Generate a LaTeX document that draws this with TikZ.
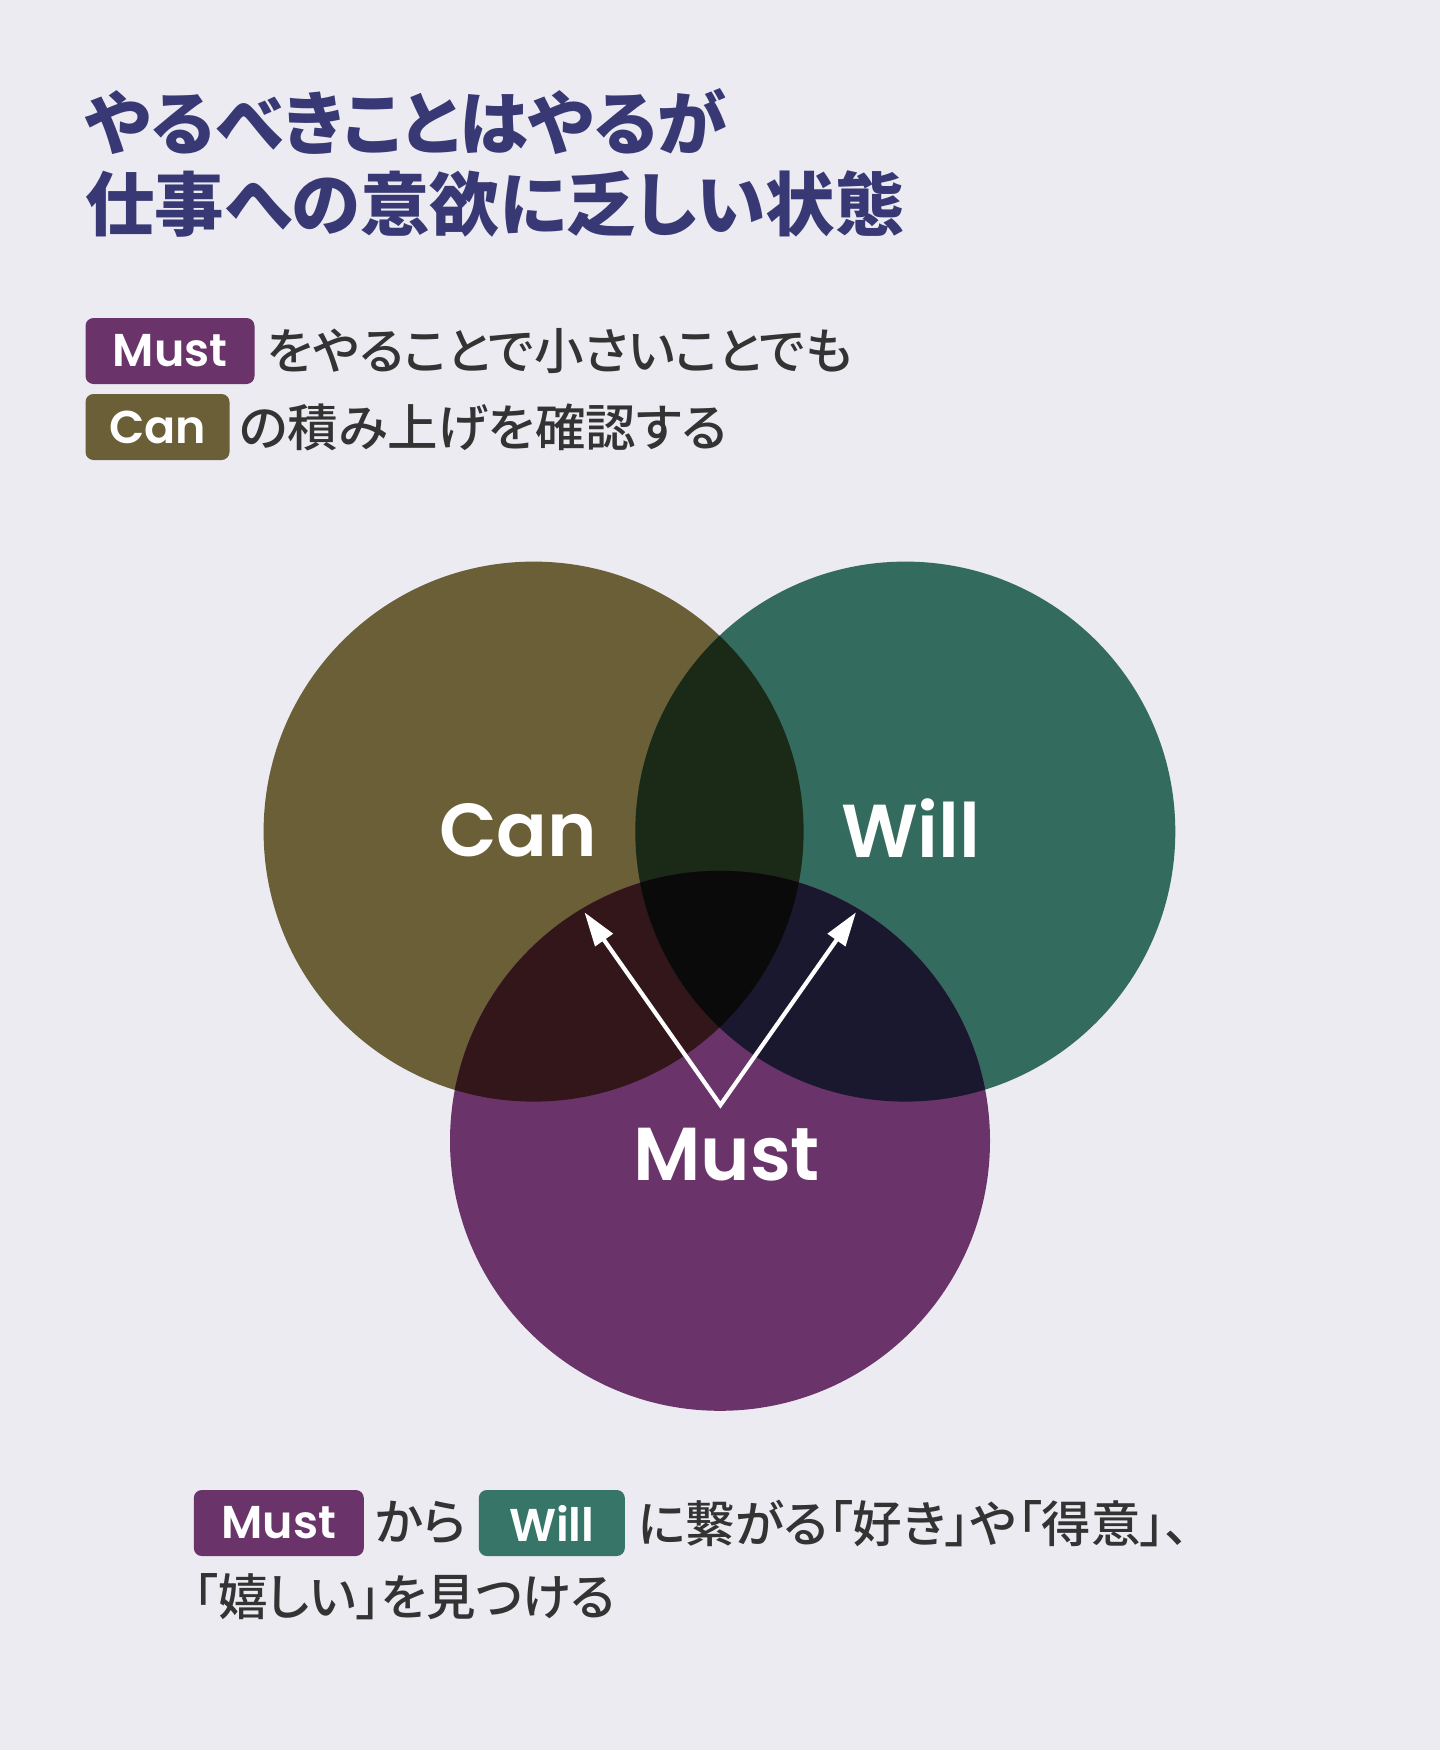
\documentclass[tikz,border=0pt]{standalone}
\usepackage{fontspec}
\usetikzlibrary{arrows.meta}
\newfontfamily\jp{Noto Sans CJK JP}[RawFeature=+palt]
\newfontfamily\jpm{Noto Sans CJK JP Medium}[RawFeature=+palt]
\newfontfamily\pop{Poppins SemiBold}
\definecolor{bg}{HTML}{ECEBF2}
\definecolor{titlec}{HTML}{383874}
\definecolor{textc}{HTML}{333333}
\definecolor{canC}{HTML}{6B5F37}
\definecolor{willC}{HTML}{346B5F}
\definecolor{willB}{HTML}{377569}
\definecolor{mustC}{HTML}{6A346B}
\definecolor{cwC}{HTML}{1A2A17}
\definecolor{cmC}{HTML}{331619}
\definecolor{wmC}{HTML}{1A182E}
\definecolor{allC}{HTML}{0B0A0B}
\tikzset{
  badge/.style={rounded corners=8pt, inner sep=0pt, minimum height=66pt, text=white,
    font=\pop\fontsize{46}{46}\selectfont},
  bodytext/.style={anchor=west, inner sep=0pt, text=textc, font=\jpm\fontsize{49.5}{49.5}\selectfont},
  titletext/.style={anchor=west, inner sep=0pt, text=titlec, font=\jp\bfseries\fontsize{69.5}{69.5}\selectfont},
  biglabel/.style={anchor=base, inner sep=0pt, text=white, font=\pop\fontsize{75}{75}\selectfont},
  arr/.style={white, line width=4.2pt, {Triangle[length=34pt,width=21pt]}-{Triangle[length=34pt,width=21pt]}}
}
\begin{document}
\begin{tikzpicture}[x=1pt,y=-1pt]
\useasboundingbox (0,0) rectangle (1440,1750);
\fill[bg] (0,0) rectangle (1440,1750);
% title
\node[titletext] (t1) at (85,122) {やるべきことはやるが};
\node[titletext] (t2) at (85,204) {仕事への意欲に乏しい状態};
% top badges and text
\node[badge, fill=mustC, minimum width=169pt] (bm1) at (170,351) {Must};
\node[bodytext] (l1) at (267,351) {をやることで小さいことでも};
\node[badge, fill=canC, minimum width=144pt] (bc1) at (157.5,427) {Can};
\node[bodytext, font=\jpm\fontsize{50.5}{50.5}\selectfont] (l2) at (239,427) {の積み上げを確認する};
% circles
\coordinate (C) at (533.6,831.6);
\coordinate (W) at (905.3,831.6);
\coordinate (M) at (720,1140.8);
\fill[canC] (C) circle[radius=270];
\fill[willC] (W) circle[radius=270];
\fill[mustC] (M) circle[radius=270];
\begin{scope}\clip (C) circle[radius=270]; \fill[cwC] (W) circle[radius=270];\end{scope}
\begin{scope}\clip (C) circle[radius=270]; \fill[cmC] (M) circle[radius=270];\end{scope}
\begin{scope}\clip (W) circle[radius=270]; \fill[wmC] (M) circle[radius=270];\end{scope}
\begin{scope}\clip (C) circle[radius=270]; \clip (W) circle[radius=270]; \fill[allC] (M) circle[radius=270];\end{scope}
\node[biglabel] (canL) at (518.4,856.7) {Can};
\node[biglabel] (willL) at (910.8,857) {Will};
\node[biglabel] (mustL) at (726.5,1180.7) {Must};
% arrows
\coordinate (apex) at (720.4,1105);
\coordinate (tipL) at (584.5,912.3);
\coordinate (tipR) at (856,912.3);
\draw[arr, line join=miter] (tipL) -- (apex) -- (tipR);
% bottom text
\node[badge, fill=mustC, minimum width=170pt] (bm2) at (278.8,1523) {Must};
\node[bodytext] (l3) at (375,1523) {から};
\node[badge, fill=willB, minimum width=146pt] (bw2) at (551.8,1523) {Will};
\node[bodytext] (l4) at (638,1523) {に繋がる「好き」や「得意」、};
\node[bodytext] (l5) at (193,1597) {「嬉しい」を見つける};
\end{tikzpicture}
\end{document}
